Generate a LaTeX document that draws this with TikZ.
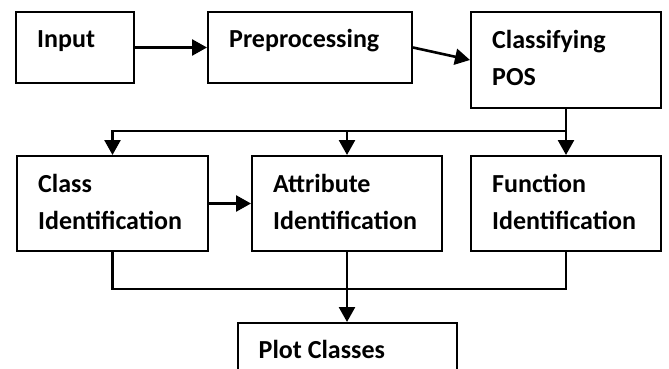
\documentclass[tikz,border=0pt]{standalone}
\usepackage{fontspec}
\setmainfont{Carlito}
\usetikzlibrary{arrows.meta}

\tikzset{
  box/.style={draw, line width=2pt, inner sep=0pt},
  lbl/.style={anchor=base west, align=left, inner sep=0pt,
    font=\bfseries\fontsize{26}{37}\selectfont},
  link/.style={line width=2.6pt},
  arrow/.style={link, -{Triangle[length=15pt,width=16pt]}}
}

\begin{document}
\begin{tikzpicture}[x=1pt,y=-1pt]
  \clip (0,0) rectangle (669,369);

  \node[box, minimum width=118pt, minimum height=71pt] (input) at (75,47.5) {};
  \node[box, minimum width=204pt, minimum height=71pt] (pre) at (310,47.5) {};
  \node[box, minimum width=190pt, minimum height=96pt] (classify) at (566,60) {};

  \node[box, minimum width=191pt, minimum height=95pt] (class) at (112.5,203.5) {};
  \node[box, minimum width=190pt, minimum height=95pt] (attr) at (347,203.5) {};
  \node[box, minimum width=190pt, minimum height=95pt] (func) at (566,203.5) {};

  \node[box, minimum width=219pt, minimum height=100pt] (plot) at (347,373) {};

  % base of a two-line label is its second line
  \node[lbl] (inputtxt) at ([shift={(22,37)}]input.north west) {Input};
  \node[lbl] (pretxt) at ([shift={(22,37)}]pre.north west) {Preprocessing};
  \node[lbl] (classifytxt) at ([shift={(22,74)}]classify.north west) {Classifying\\POS};
  \node[lbl] (classtxt) at ([shift={(22,74)}]class.north west) {Class\\Identification};
  \node[lbl] (attrtxt) at ([shift={(22,74)}]attr.north west) {Attribute\\Identification};
  \node[lbl] (functxt) at ([shift={(22,74)}]func.north west) {Function\\Identification};
  \node[lbl] (plottxt) at ([shift={(22,36)}]plot.north west) {Plot Classes};

  \foreach \from/\to in {input/pre, pre/classify, class/attr}
    \draw[arrow] (\from.east) -- (\to.west);

  \coordinate (split) at (566,131);
  \draw[link] (classify.south) -- (split);
  \foreach \to in {class, attr, func}
    \draw[arrow] (split) -| (\to.north);

  \draw[link] (class.south) -- ++(0,37) -| (func.south);
  \draw[arrow] (attr.south) -- (plot.north);
\end{tikzpicture}
\end{document}
